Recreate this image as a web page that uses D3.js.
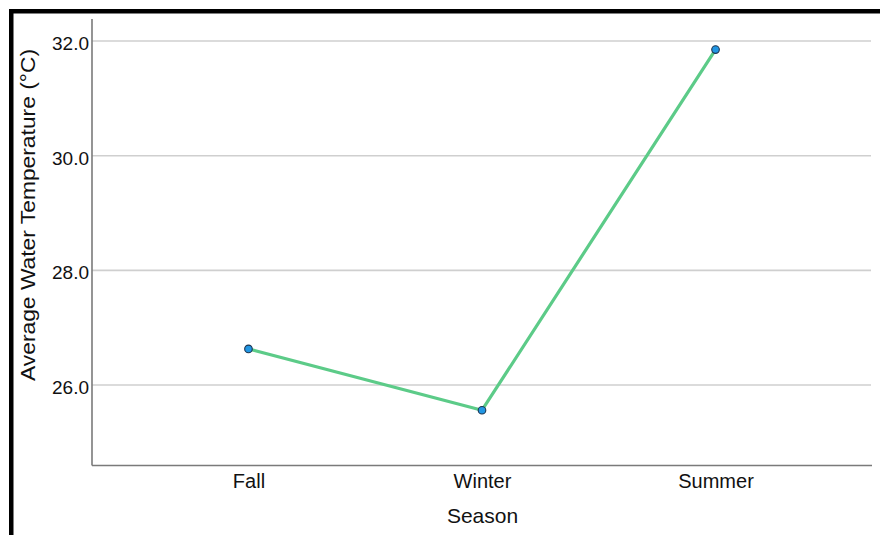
<!DOCTYPE html>
<html>
<head>
<meta charset="utf-8">
<script src="https://cdn.jsdelivr.net/npm/d3@7"></script>
<style>
  html, body { margin: 0; padding: 0; background: #fff; }
  svg { display: block; font-family: Arial, "Liberation Sans", Helvetica, sans-serif; }
</style>
</head>
<body>
<div id="chart"></div>
<script>
const seasons = ["Fall", "Winter", "Summer"];
const avgTemp = [26.63, 25.56, 31.85];
const yTicks = [26, 28, 30, 32];
const xTitle = "Season";
const yTitle = "Average Water Temperature (°C)";

const W = 880, H = 535;
const plot = { left: 92, right: 872, top: 19, bottom: 465.5 };

const svg = d3.select("#chart").append("svg").attr("width", W).attr("height", H);

// frame (black border at top and left)
svg.append("rect").attr("x", 9).attr("y", 9).attr("width", W - 9).attr("height", 4.5).attr("fill", "#000");
svg.append("rect").attr("x", 9).attr("y", 9).attr("width", 4.5).attr("height", H - 9).attr("fill", "#000");

const x = d3.scalePoint().domain(seasons).range([plot.left, plot.right]).padding(0.67);
const y = d3.scaleLinear().domain([24.596, 32.384]).range([plot.bottom, plot.top]);

// gridlines
svg.append("g").selectAll("line").data(yTicks).join("line")
  .attr("x1", plot.left).attr("x2", 871)
  .attr("y1", d => y(d)).attr("y2", d => y(d))
  .attr("stroke", "#cfcfcf").attr("stroke-width", 1.6);

// y axis
const yAxis = svg.append("g").attr("transform", `translate(${plot.left},0)`)
  .call(d3.axisLeft(y).tickValues(yTicks).tickFormat(d3.format(".1f")).tickSize(0).tickPadding(3));
yAxis.select(".domain").remove();
yAxis.selectAll("text").attr("font-size", 19).attr("fill", "#111").attr("dy", "0.45em")
  .attr("font-family", "Arial, 'Liberation Sans', sans-serif");

// x axis
const xAxis = svg.append("g").attr("transform", `translate(0,${plot.bottom})`)
  .call(d3.axisBottom(x).tickSize(0).tickPadding(0));
xAxis.select(".domain").remove();
xAxis.selectAll("text").attr("font-size", 20).attr("fill", "#111").attr("y", 22).attr("dy", 0)
  .attr("font-family", "Arial, 'Liberation Sans', sans-serif");

// axis lines
svg.append("line").attr("x1", plot.left).attr("x2", plot.left).attr("y1", plot.top).attr("y2", plot.bottom)
  .attr("stroke", "#7a7a7a").attr("stroke-width", 1.6);
svg.append("line").attr("x1", plot.left).attr("x2", plot.right).attr("y1", plot.bottom).attr("y2", plot.bottom)
  .attr("stroke", "#7a7a7a").attr("stroke-width", 1.6);

// titles
svg.append("text").attr("x", (plot.left + plot.right) / 2 + 0.5).attr("y", 523)
  .attr("text-anchor", "middle").attr("font-size", 21).attr("fill", "#111").text(xTitle);
svg.append("text").attr("transform", `translate(35,215) rotate(-90)`)
  .attr("text-anchor", "middle").attr("font-size", 20).attr("fill", "#111")
  .attr("textLength", 332).attr("lengthAdjust", "spacingAndGlyphs").text(yTitle);

// line
const pts = seasons.map((s, i) => [x(s), y(avgTemp[i])]);
svg.append("path").attr("d", d3.line()(pts)).attr("fill", "none")
  .attr("stroke", "#5ccb88").attr("stroke-width", 3.2).attr("stroke-linejoin", "round");

svg.append("g").selectAll("circle").data(seasons).join("circle")
  .attr("cx", d => x(d)).attr("cy", (d, i) => y(avgTemp[i])).attr("r", 3.8)
  .attr("fill", "#2196e3").attr("stroke", "#1d3550").attr("stroke-width", 1.1);
</script>
</body>
</html>
